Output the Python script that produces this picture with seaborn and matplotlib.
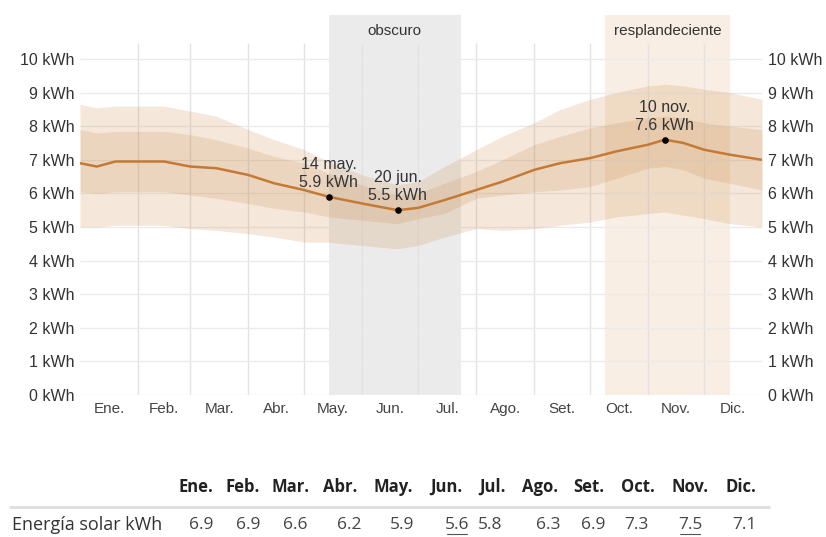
import numpy as np
import pandas as pd
import matplotlib
matplotlib.use("Agg")
import matplotlib.pyplot as plt
from matplotlib.lines import Line2D
import seaborn as sns

# ---------------- data ----------------
day = [0, 9, 19, 31, 45, 59, 73, 90, 104, 120, 133, 151, 170, 181, 195,
       212, 226, 243, 257, 273, 287, 304, 313, 323, 334, 348, 365]
median = [6.9, 6.8, 6.95, 6.95, 6.95, 6.8, 6.75, 6.55, 6.3, 6.1, 5.9, 5.7, 5.5, 5.57, 5.8,
          6.1, 6.35, 6.7, 6.9, 7.05, 7.25, 7.45, 7.6, 7.5, 7.3, 7.15, 7.0]
p90 = [8.65, 8.55, 8.6, 8.6, 8.6, 8.45, 8.3, 7.9, 7.6, 7.3, 6.95, 6.55, 6.25, 6.35, 6.8,
       7.3, 7.7, 8.1, 8.5, 8.8, 9.0, 9.2, 9.25, 9.2, 9.1, 9.0, 8.8]
p75 = [7.9, 7.8, 7.85, 7.85, 7.85, 7.75, 7.6, 7.35, 7.1, 6.9, 6.6, 6.25, 5.95, 6.0, 6.3,
       6.65, 7.0, 7.45, 7.7, 7.95, 8.1, 8.25, 8.3, 8.25, 8.1, 8.0, 7.9]
p25 = [6.05, 6.0, 6.05, 6.05, 6.05, 5.95, 5.85, 5.7, 5.55, 5.45, 5.3, 5.2, 5.1, 5.25, 5.4,
       5.85, 5.95, 6.05, 6.1, 6.2, 6.45, 6.75, 6.8, 6.7, 6.45, 6.3, 6.1]
p10 = [5.0, 5.0, 5.05, 5.05, 5.05, 4.95, 4.9, 4.8, 4.7, 4.55, 4.55, 4.45, 4.35, 4.45, 4.7,
       4.95, 4.9, 4.95, 5.05, 5.15, 5.3, 5.4, 5.45, 5.35, 5.25, 5.1, 5.0]

month_len = [31, 28, 31, 30, 31, 30, 31, 31, 30, 31, 30, 31]
month_labels = ["Ene.", "Feb.", "Mar.", "Abr.", "May.", "Jun.", "Jul.", "Ago.", "Set.", "Oct.", "Nov.", "Dic."]
yticks = [0, 1, 2, 3, 4, 5, 6, 7, 8, 9, 10]

dark_period = (133, 204)
bright_period = (281, 348)

highlights_day = [133, 170, 313]
highlights_val = [5.9, 5.5, 7.6]
highlights_txt = ["14 may.\n5.9 kWh", "20 jun.\n5.5 kWh", "10 nov.\n7.6 kWh"]

table_values = [6.9, 6.9, 6.6, 6.2, 5.9, 5.6, 5.8, 6.3, 6.9, 7.3, 7.5, 7.1]
table_row_label = "Energía solar kWh"

# ---------------- style ----------------
sns.set_theme(style="white")
plt.rcParams['font.family'] = ['Liberation Sans', 'DejaVu Sans']

W, H = 826, 537
fig = plt.figure(figsize=(W / 100, H / 100), dpi=100)
ax = fig.add_axes([80 / W, 1 - 395 / H, 682 / W, 380 / H])

TXT = "#333333"
band_c = "#c8823c"

ax.set_xlim(0, 365)
ax.set_ylim(0, 11.31)

# periods
ax.axvspan(*dark_period, color="#ebebeb", zorder=0, lw=0)
ax.axvspan(*bright_period, color="#f8eee3", zorder=0, lw=0)
ax.text(sum(dark_period) / 2, 10.83, "obscuro", ha="center", va="center",
        fontsize=11, color=TXT)
ax.text(sum(bright_period) / 2, 10.83, "resplandeciente", ha="center", va="center",
        fontsize=11, color=TXT)

# grid
bounds = np.cumsum(month_len)[:-1]
ax.vlines(bounds, 0, 10.48, color="#e2e2e2", lw=1, zorder=0.5)
ax.hlines(yticks, 0, 365, color="#ebebeb", lw=1, zorder=0.5)

# bands + median
df = pd.DataFrame({"day": day, "median": median, "p10": p10, "p25": p25, "p75": p75, "p90": p90})
ax.fill_between(df["day"], df["p10"], df["p90"], color=band_c, alpha=0.18, lw=0, zorder=1)
ax.fill_between(df["day"], df["p25"], df["p75"], color=band_c, alpha=0.18, lw=0, zorder=1)
sns.lineplot(data=df, x="day", y="median", ax=ax, color="#c47a35", lw=1.8, zorder=2)

# highlights
ax.scatter(highlights_day, highlights_val, s=14, color="black", zorder=4)
for d, v, t in zip(highlights_day, highlights_val, highlights_txt):
    ax.annotate(t, (d, v), xytext=(0, 7), textcoords="offset pixels", ha="center",
                va="bottom", fontsize=11.5, color=TXT, linespacing=1.25, zorder=5)

# axes formatting
mids = np.cumsum(month_len) - np.array(month_len) / 2
ax.set_xticks(mids)
ax.set_xticklabels(month_labels, fontsize=11, color="#444444")
ax.set_yticks(yticks)
ax.set_yticklabels([f"{v} kWh" for v in yticks], fontsize=11.5, color=TXT)
ax.tick_params(axis="y", labelleft=True, labelright=True, length=0, pad=4)
ax.tick_params(axis="x", length=0, pad=5)
ax.set_xlabel("")
ax.set_ylabel("")
for s in ax.spines.values():
    s.set_visible(False)
ax.grid(False)

# ---------------- table ----------------
hdr_x = [196, 243, 291, 340, 393, 446, 492, 540, 589, 638, 690, 741]
val_x = [201, 248, 295, 349, 402, 457, 490, 548, 593, 636, 690, 744]
tfont = ['Open Sans', 'DejaVu Sans']
for x, lab in zip(hdr_x, month_labels):
    fig.text(x / W, 1 - 487 / H, lab, ha="center", va="center", fontsize=12,
             fontweight="bold", family=tfont, color="#222222")
fig.add_artist(Line2D([10 / W, 769 / W], [1 - 507 / H] * 2, color="#dedede", lw=2))
fig.text(12 / W, 1 - 525 / H, table_row_label, ha="left", va="center", fontsize=13,
         family=tfont, color=TXT)
for i, (x, v) in enumerate(zip(val_x, table_values)):
    fig.text(x / W, 1 - 525 / H, f"{v:.1f}", ha="center", va="center", fontsize=12.5,
             family=tfont, color="#444444")
    if v == min(table_values) or v == max(table_values):
        fig.add_artist(Line2D([(x - 10) / W, (x + 10) / W], [1 - 534 / H] * 2,
                              color="#555555", lw=0.8))

fig.savefig("out.png", dpi=100)
